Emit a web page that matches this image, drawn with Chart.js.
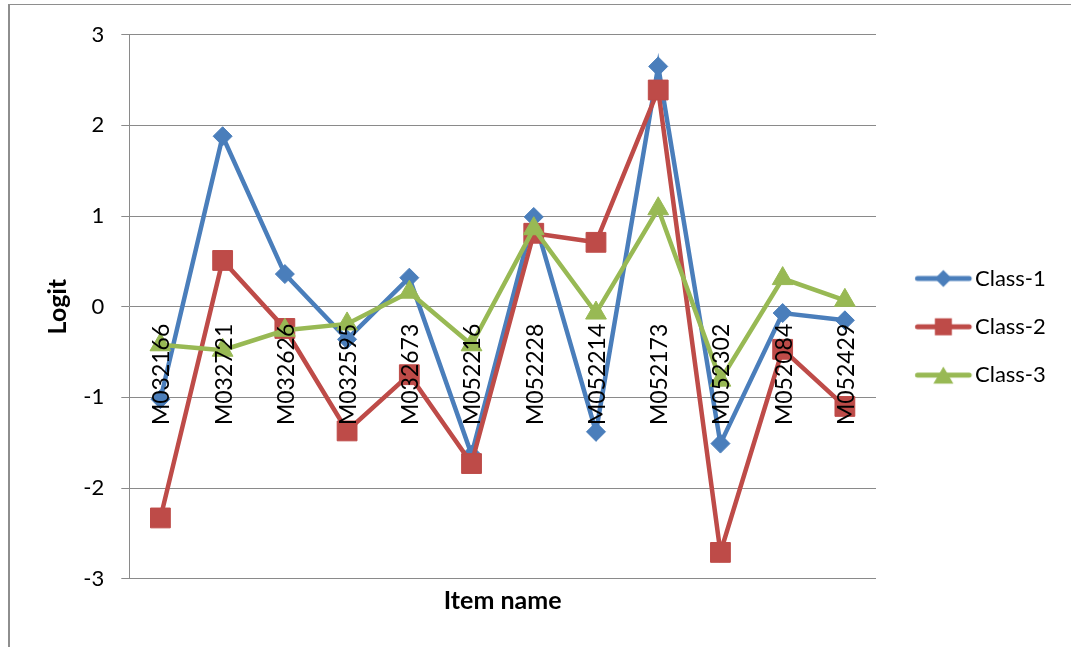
<!DOCTYPE html>
<html>
<head>
<meta charset="utf-8">
<style>
  html, body { margin: 0; padding: 0; background: #fff; }
  #wrap { position: relative; width: 1071px; height: 647px; overflow: hidden; }
  #wrap canvas { position: absolute; left: 0; top: 0; }
  #frame { position: absolute; left: 8px; top: 4px; width: 1200px; height: 800px;
           border-left: 2px solid #8e8e8e; border-top: 1px solid #8e8e8e; pointer-events: none; }
</style>
<script src="https://cdn.jsdelivr.net/npm/chart.js@4.4.1/dist/chart.umd.min.js"></script>
</head>
<body>
<div id="wrap">
  <canvas id="chart" width="1071" height="647" style="width:1071px;height:647px"></canvas>
  <div id="frame"></div>
</div>
<script>
// Item logits per latent class
const itemNames = ['M032166', 'M032721', 'M032626', 'M032595', 'M032673', 'M052216',
                   'M052228', 'M052214', 'M052173', 'M052302', 'M052084', 'M052429'];
const class1 = [-1.02, 1.88, 0.36, -0.36, 0.32, -1.63, 0.99, -1.38, 2.65, -1.51, -0.07, -0.15];
const class2 = [-2.33, 0.51, -0.24, -1.37, -0.75, -1.73, 0.81, 0.71, 2.39, -2.71, -0.47, -1.10];
const class3 = [-0.42, -0.48, -0.26, -0.19, 0.16, -0.42, 0.86, -0.07, 1.08, -0.81, 0.31, 0.07];
const seriesNames = ['Class-1', 'Class-2', 'Class-3'];
const yTicks = [-3, -2, -1, 0, 1, 2, 3];

const FONT = "Lato, 'Open Sans', sans-serif";
const seriesColors = ['#4a7ebb', '#be4b48', '#98b954'];
const seriesMarkers = ['rectRot', 'rect', 'triangle'];
const markerRadius = [9.5, 14, 12];
const gridColor = '#8a8a8a';

// plot frame and legend geometry
const W = 1071, H = 647;
const plotLeft = 129.3, plotRight = 876, plotTop = 34.7, plotBottom = 578.7;
const legendFontSize = 22;
const legendStep = 48.3;               // distance between legend rows
const legendFirstRow = 278.5;          // centre of first legend row
const legendTextX = 975;               // where legend text starts
const legendLineFrom = 917.5, legendLineTo = 969.2;
const legendPad = legendStep - legendFontSize;
const legendBoxW = legendTextX - plotRight - legendPad - legendFontSize / 2;
const legendIconCenter = plotRight + legendPad + legendBoxW / 2;
const rowsH = seriesNames.length * legendStep;
// vertical room for the legend column so its first row lands on legendFirstRow
const legendBottom = 2 * (legendFirstRow - legendFontSize / 2) - plotTop - legendPad + rowsH;
const padBottom = H - legendBottom;
const titleSize = 25, titleLH = titleSize * 1.2;
const xAxisH = legendBottom - plotBottom;
const xTitleCenter = 601;
const xTitlePadBottom = legendBottom - titleLH / 2 - xTitleCenter;
const xTitlePadTop = xAxisH - titleLH - xTitlePadBottom;
const yTitleCenter = 58;

// width of the legend column decides the right padding
const mctx = document.createElement('canvas').getContext('2d');
mctx.font = legendFontSize + 'px ' + FONT;
const legendTextW = Math.max(...seriesNames.map(s => mctx.measureText(s).width));
const legendW = legendPad + legendBoxW + legendFontSize / 2 + legendTextW + 10;
const padRight = W - plotRight - legendW;

// legend icon: a short line with the series marker on it
function legendIcon(color, marker) {
  const cw = 84, ch = 28;
  const cv = document.createElement('canvas');
  cv.width = cw; cv.height = ch;
  const g = cv.getContext('2d');
  const left = legendIconCenter - cw / 2;
  const cy = ch / 2;
  const mx = (legendLineFrom + legendLineTo) / 2 - left;
  g.strokeStyle = color; g.fillStyle = color;
  g.lineWidth = 5; g.lineCap = 'round';
  g.beginPath(); g.moveTo(legendLineFrom - left, cy); g.lineTo(legendLineTo - left, cy); g.stroke();
  g.beginPath();
  if (marker === 'rectRot') {
    const r = 8.5;
    g.moveTo(mx, cy - r); g.lineTo(mx + r, cy); g.lineTo(mx, cy + r); g.lineTo(mx - r, cy);
  } else if (marker === 'rect') {
    const s = 8.5;
    g.rect(mx - s, cy - s, 2 * s, 2 * s);
  } else {
    g.moveTo(mx, cy - 8.5); g.lineTo(mx + 10, cy + 8.5); g.lineTo(mx - 10, cy + 8.5);
  }
  g.closePath(); g.fill();
  return cv;
}
const legendIcons = seriesColors.map((c, i) => legendIcon(c, seriesMarkers[i]));

const seriesData = [class1, class2, class3];
const datasets = seriesNames.map((name, i) => ({
  label: name,
  data: seriesData[i],
  xAxisID: 'x',
  borderColor: seriesColors[i],
  backgroundColor: seriesColors[i],
  borderWidth: 4.5,
  tension: 0,
  pointStyle: seriesMarkers[i],
  pointRadius: markerRadius[i],
  pointHoverRadius: markerRadius[i],
  pointBorderWidth: 1,
  pointBorderColor: seriesColors[i],
  pointBackgroundColor: seriesColors[i],
  order: seriesNames.length - i
}));

new Chart(document.getElementById('chart'), {
  type: 'line',
  data: { labels: itemNames, datasets },
  options: {
    responsive: false,
    animation: false,
    layout: { padding: { top: plotTop, left: 0, right: padRight, bottom: padBottom } },
    plugins: {
      tooltip: { enabled: false },
      legend: {
        position: 'right',
        labels: {
          usePointStyle: true,
          pointStyleWidth: legendBoxW,
          padding: legendPad,
          color: '#000',
          font: { family: FONT, size: legendFontSize },
          generateLabels(chart) {
            return Chart.defaults.plugins.legend.labels.generateLabels(chart)
              .sort((a, b) => a.datasetIndex - b.datasetIndex)
              .map(item => Object.assign(item, { pointStyle: legendIcons[item.datasetIndex] }));
          }
        }
      }
    },
    scales: {
      y: {
        type: 'linear',
        position: 'left',
        min: -3, max: 3,
        afterFit(scale) { scale.width = plotLeft; },
        afterBuildTicks(scale) { scale.ticks = yTicks.map(v => ({ value: v })); },
        ticks: { color: '#000', padding: 17, font: { family: FONT, size: 22 } },
        grid: { color: gridColor, lineWidth: 1, tickLength: 8, drawTicks: true },
        border: { display: true, color: gridColor, width: 1 },
        title: { display: true, text: 'Logit', color: '#000',
                 font: { family: FONT, size: titleSize, weight: 'bold', lineHeight: 1.2 },
                 padding: { top: yTitleCenter - titleLH / 2, bottom: 0 } }
      },
      x: {
        type: 'category',
        position: { y: 0 },
        offset: true,
        grid: { display: false, drawTicks: false },
        border: { display: false },
        ticks: { z: 1,            // item names sit on top of the lines
                 autoSkip: false, minRotation: 90, maxRotation: 90, padding: 17, labelOffset: 1.5,
                 color: '#000', font: { family: FONT, size: 23 } }
      },
      x2: {
        type: 'category',
        position: 'bottom',
        offset: true,
        labels: itemNames,
        grid: { display: false, drawTicks: false },
        border: { display: false },
        ticks: { display: false },
        title: { display: true, text: 'Item name', color: '#000',
                 font: { family: FONT, size: titleSize, weight: 'bold', lineHeight: 1.2 },
                 padding: { top: xTitlePadTop, bottom: xTitlePadBottom } }
      }
    }
  }
});
</script>
</body>
</html>
